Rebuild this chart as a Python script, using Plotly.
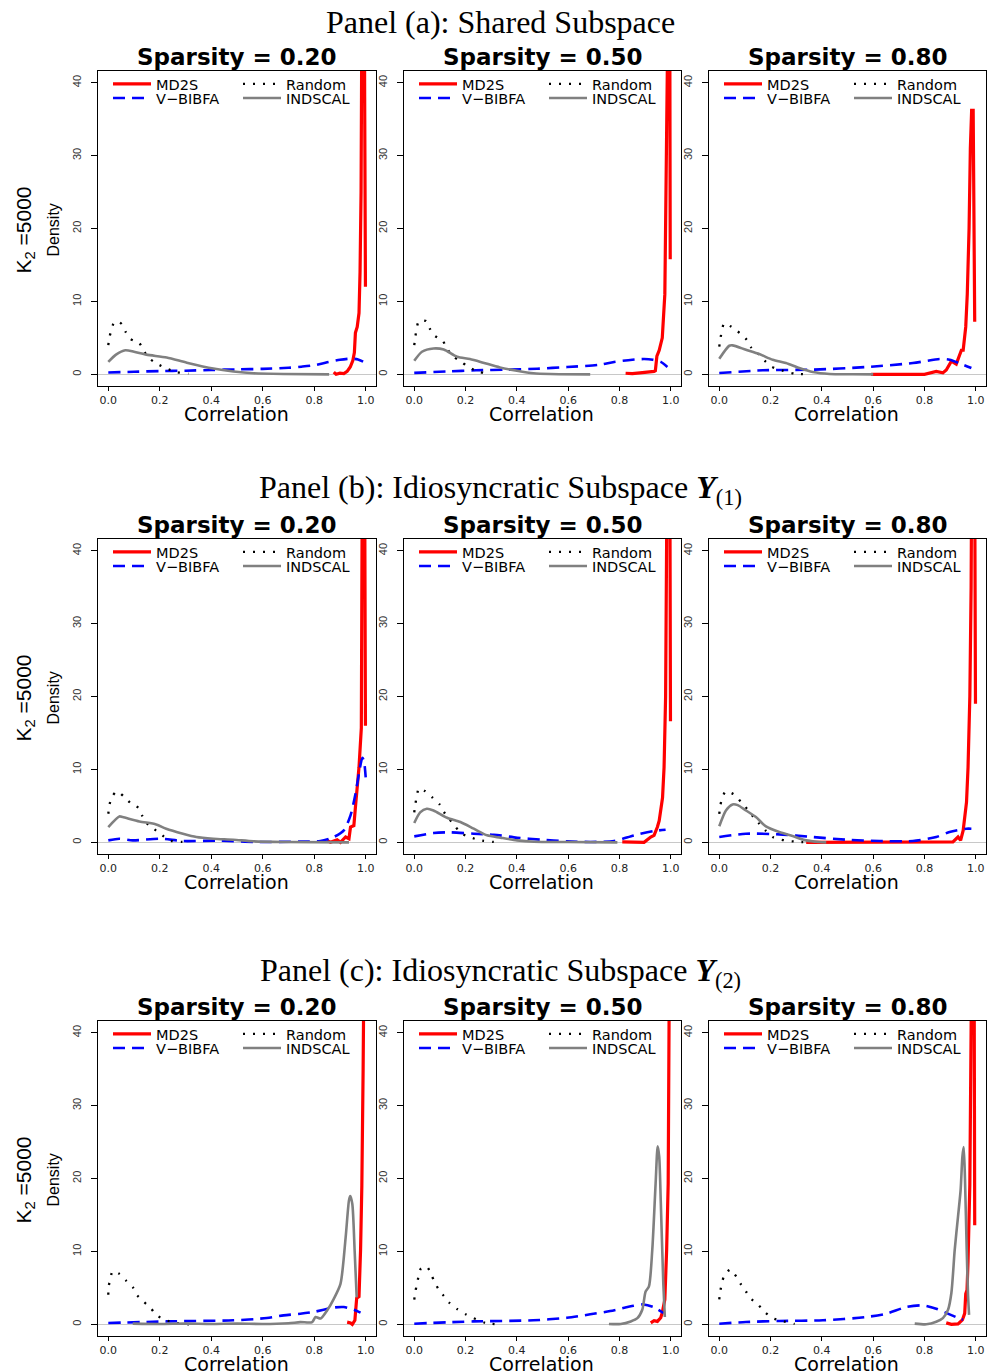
import plotly.graph_objects as go

# ---------------- text / categories ----------------
PANEL_TITLES = [
    "Panel (a): Shared Subspace",
    "Panel (b): Idiosyncratic Subspace <b><i>Y</i></b><sub>(1)</sub>",
    "Panel (c): Idiosyncratic Subspace <b><i>Y</i></b><sub>(2)</sub>",
]
SPARSITY = ["0.20", "0.50", "0.80"]
METHODS = ["MD2S", "V\u2212BIBFA", "Random", "INDSCAL"]
X_TICKS = [0.0, 0.2, 0.4, 0.6, 0.8, 1.0]
X_TICK_TEXT = ["0.0", "0.2", "0.4", "0.6", "0.8", "1.0"]
Y_TICKS = [0, 10, 20, 30, 40]
Y_LABEL_MAIN = "K<sub>2</sub> =5000"
Y_LABEL_SUB = "Density"
X_LABEL = "Correlation"

# ---------------- Panel (a) Sparsity 0.20 ----------------
A1_MD2S_X = [0.876, 0.885, 0.9, 0.915, 0.928, 0.94, 0.95, 0.956, 0.96, 0.967, 0.974, 0.978, 0.982, 0.985, 0.989, 0.993, 0.996, 0.999]
A1_MD2S_Y = [0.3, 0.0, 0.15, 0.1, 0.4, 1.0, 1.9, 3.0, 5.7, 6.5, 8.4, 14.0, 25.0, 45.0, 80.0, 70.0, 38.0, 12.0]
A1_BIBFA_X = [0.0, 0.1, 0.2, 0.3, 0.4, 0.5, 0.6, 0.7, 0.75, 0.8, 0.85, 0.9, 0.94, 0.97, 0.99]
A1_BIBFA_Y = [0.25, 0.35, 0.45, 0.5, 0.6, 0.68, 0.75, 0.9, 1.05, 1.25, 1.65, 2.0, 2.15, 2.05, 1.75]
A1_RANDOM_X = [0.0, 0.004, 0.012, 0.023, 0.04, 0.052, 0.066, 0.084, 0.1, 0.12, 0.137, 0.155, 0.187, 0.226, 0.266, 0.311]
A1_RANDOM_Y = [4.0, 5.05, 6.05, 7.15, 7.2, 6.9, 5.9, 4.9, 4.6, 4.3, 3.3, 2.3, 1.5, 0.8, 0.3, 0.1]
A1_INDSCAL_X = [0.0, 0.03, 0.066, 0.1, 0.148, 0.227, 0.305, 0.408, 0.486, 0.564, 0.68, 0.858]
A1_INDSCAL_Y = [1.7, 2.7, 3.3, 3.1, 2.7, 2.3, 1.6, 0.8, 0.4, 0.15, 0.05, 0.0]

# ---------------- Panel (a) Sparsity 0.50 ----------------
A2_MD2S_X = [0.824, 0.85, 0.88, 0.9, 0.92, 0.935, 0.94, 0.946, 0.955, 0.962, 0.967, 0.977, 0.984, 0.988, 0.992, 0.996, 0.998]
A2_MD2S_Y = [0.15, 0.1, 0.2, 0.25, 0.3, 0.4, 0.5, 2.5, 3.3, 4.5, 5.0, 11.0, 29.0, 46.0, 80.0, 55.0, 15.8]
A2_BIBFA_X = [0.0, 0.128, 0.241, 0.362, 0.479, 0.596, 0.72, 0.779, 0.85, 0.896, 0.93, 0.961, 0.987]
A2_BIBFA_Y = [0.2, 0.4, 0.55, 0.64, 0.77, 1.0, 1.3, 1.7, 2.0, 2.1, 2.0, 1.7, 1.0]
A2_RANDOM_X = [0.0, 0.004, 0.009, 0.018, 0.046, 0.06, 0.079, 0.111, 0.126, 0.15, 0.18, 0.212, 0.251, 0.296]
A2_RANDOM_Y = [4.0, 5.1, 6.2, 7.3, 7.3, 6.3, 5.3, 4.6, 3.6, 2.5, 1.8, 1.0, 0.35, 0.1]
A2_INDSCAL_X = [0.0, 0.03, 0.075, 0.115, 0.167, 0.217, 0.269, 0.334, 0.4, 0.465, 0.53, 0.686]
A2_INDSCAL_Y = [1.85, 3.1, 3.55, 3.4, 2.4, 2.1, 1.6, 0.95, 0.5, 0.15, 0.05, 0.0]

# ---------------- Panel (a) Sparsity 0.80 ----------------
A3_MD2S_X = [0.592, 0.7, 0.8, 0.846, 0.872, 0.885, 0.905, 0.924, 0.944, 0.951, 0.961, 0.967, 0.974, 0.979, 0.984, 0.99, 0.995, 0.996]
A3_MD2S_Y = [0.0, 0.0, 0.0, 0.4, 0.2, 0.6, 1.8, 1.4, 3.3, 3.3, 6.5, 11.0, 20.0, 31.0, 36.2, 36.2, 20.0, 7.2]
A3_BIBFA_X = [0.0, 0.17, 0.365, 0.573, 0.755, 0.859, 0.898, 0.951, 0.983]
A3_BIBFA_Y = [0.18, 0.55, 0.64, 1.0, 1.55, 2.1, 2.0, 1.32, 0.87]
A3_RANDOM_X = [0.0, 0.005, 0.0104, 0.0195, 0.048, 0.082, 0.108, 0.124, 0.152, 0.176, 0.204, 0.247, 0.292, 0.34]
A3_RANDOM_Y = [3.8, 5.0, 6.0, 7.0, 6.5, 5.6, 4.7, 3.7, 2.8, 1.9, 1.05, 0.5, 0.1, 0.0]
A3_INDSCAL_X = [0.0, 0.039, 0.052, 0.104, 0.156, 0.208, 0.26, 0.312, 0.365, 0.43, 0.52, 0.6]
A3_INDSCAL_Y = [2.14, 3.92, 3.97, 3.37, 2.78, 2.0, 1.55, 0.87, 0.32, 0.05, 0.02, 0.0]

# ---------------- Panel (b) Sparsity 0.20 ----------------
B1_MD2S_X = [0.85, 0.863, 0.889, 0.902, 0.922, 0.935, 0.941, 0.954, 0.96, 0.974, 0.983, 0.986, 0.99, 0.995, 0.999]
B1_MD2S_Y = [0.27, 0.0, 0.36, 0.0, 0.73, 0.5, 2.1, 2.3, 4.8, 10.3, 15.7, 45.0, 80.0, 60.0, 16.0]
B1_BIBFA_X = [0.0, 0.043, 0.095, 0.2, 0.29, 0.42, 0.564, 0.746, 0.824, 0.876, 0.915, 0.941, 0.96, 0.978, 0.987, 0.993, 1.0]
B1_BIBFA_Y = [0.27, 0.5, 0.27, 0.5, 0.18, 0.23, 0.05, 0.1, 0.18, 0.73, 1.64, 3.7, 6.6, 10.3, 11.6, 11.2, 8.9]
B1_RANDOM_X = [0.0, 0.004, 0.012, 0.034, 0.063, 0.086, 0.118, 0.131, 0.147, 0.177, 0.208, 0.242, 0.288]
B1_RANDOM_Y = [3.92, 5.0, 6.1, 7.0, 6.2, 5.4, 4.7, 3.7, 2.7, 1.86, 1.0, 0.23, 0.05]
B1_INDSCAL_X = [0.0, 0.043, 0.056, 0.121, 0.186, 0.225, 0.29, 0.342, 0.408, 0.486, 0.564, 0.68, 0.935]
B1_INDSCAL_Y = [2.1, 3.55, 3.46, 2.87, 2.46, 1.86, 1.18, 0.73, 0.5, 0.36, 0.14, 0.05, 0.0]

# ---------------- Panel (b) Sparsity 0.50 ----------------
B2_MD2S_X = [0.811, 0.86, 0.896, 0.922, 0.935, 0.948, 0.955, 0.968, 0.974, 0.98, 0.985, 0.988, 0.992, 0.996, 0.999]
B2_MD2S_Y = [0.05, 0.02, 0.0, 0.73, 0.96, 2.1, 2.96, 6.1, 10.3, 20.0, 35.0, 50.0, 85.0, 60.0, 16.6]
B2_BIBFA_X = [0.0, 0.075, 0.141, 0.232, 0.31, 0.401, 0.492, 0.596, 0.688, 0.779, 0.857, 0.935, 0.98]
B2_BIBFA_Y = [0.82, 1.27, 1.37, 1.18, 1.05, 0.64, 0.36, 0.14, 0.05, 0.18, 0.96, 1.55, 1.73]
B2_RANDOM_X = [0.0, 0.004, 0.01, 0.018, 0.043, 0.072, 0.099, 0.115, 0.134, 0.158, 0.18, 0.219, 0.264, 0.31]
B2_RANDOM_Y = [4.1, 5.2, 6.3, 7.4, 7.0, 6.1, 5.2, 4.2, 3.3, 2.3, 1.3, 0.68, 0.23, 0.05]
B2_INDSCAL_X = [0.0, 0.023, 0.049, 0.075, 0.128, 0.18, 0.232, 0.284, 0.336, 0.401, 0.466, 0.596, 0.792]
B2_INDSCAL_Y = [2.65, 4.1, 4.6, 4.37, 3.37, 2.78, 1.87, 0.96, 0.64, 0.27, 0.09, 0.05, 0.0]

# ---------------- Panel (b) Sparsity 0.80 ----------------
B3_MD2S_X = [0.339, 0.5, 0.755, 0.885, 0.911, 0.931, 0.941, 0.951, 0.957, 0.964, 0.97, 0.977, 0.982, 0.985, 0.99, 0.995, 0.999]
B3_MD2S_Y = [0.0, 0.0, 0.0, 0.05, 0.05, 0.73, 0.27, 1.64, 3.64, 5.5, 10.3, 20.0, 35.0, 50.0, 90.0, 60.0, 19.0]
B3_BIBFA_X = [0.0, 0.104, 0.234, 0.365, 0.495, 0.625, 0.755, 0.846, 0.898, 0.964, 0.983]
B3_BIBFA_Y = [0.73, 1.18, 1.09, 0.73, 0.36, 0.18, 0.18, 0.73, 1.41, 1.87, 1.87]
B3_RANDOM_X = [0.0, 0.004, 0.0104, 0.026, 0.065, 0.087, 0.111, 0.133, 0.156, 0.18, 0.208, 0.254, 0.3, 0.345]
B3_RANDOM_Y = [3.9, 4.96, 6.0, 7.0, 6.4, 5.4, 4.46, 3.46, 2.55, 1.64, 0.73, 0.27, 0.09, 0.0]
B3_INDSCAL_X = [0.0, 0.026, 0.052, 0.072, 0.104, 0.143, 0.182, 0.234, 0.286, 0.339, 0.39, 0.417]
B3_INDSCAL_Y = [2.2, 4.37, 5.2, 5.1, 4.37, 3.46, 2.18, 1.41, 0.86, 0.27, 0.05, 0.0]

# ---------------- Panel (c) Sparsity 0.20 ----------------
C1_MD2S_X = [0.928, 0.941, 0.948, 0.958, 0.965, 0.974, 0.98, 0.985, 0.99, 0.994, 0.999]
C1_MD2S_Y = [0.3, 0.2, 0.0, 0.55, 3.6, 3.8, 10.2, 19.0, 35.0, 55.0, 75.0]
C1_BIBFA_X = [0.0, 0.225, 0.486, 0.616, 0.681, 0.746, 0.798, 0.876, 0.915, 0.954, 0.98]
C1_BIBFA_Y = [0.18, 0.4, 0.55, 0.86, 1.23, 1.45, 1.7, 2.3, 2.37, 2.0, 1.6]
C1_RANDOM_X = [0.0, 0.001, 0.008, 0.017, 0.043, 0.069, 0.095, 0.111, 0.137, 0.164, 0.184, 0.223, 0.264, 0.314]
C1_RANDOM_Y = [4.05, 5.1, 6.24, 7.28, 6.92, 6.0, 5.1, 4.05, 3.1, 2.28, 1.32, 0.59, 0.18, 0.0]
C1_INDSCAL_X = [0.095, 0.2, 0.3, 0.4, 0.5, 0.6, 0.7, 0.746, 0.792, 0.805, 0.825, 0.85, 0.876, 0.902, 0.922, 0.935, 0.94, 0.948, 0.957, 0.965]
C1_INDSCAL_Y = [0.1, 0.05, 0.1, 0.05, 0.1, 0.05, 0.15, 0.3, 0.3, 1.0, 0.8, 1.9, 3.5, 5.55, 11.9, 17.0, 17.6, 16.5, 10.1, 3.7]

# ---------------- Panel (c) Sparsity 0.50 ----------------
C2_MD2S_X = [0.922, 0.935, 0.948, 0.961, 0.967, 0.977, 0.984, 0.99, 0.994, 0.999]
C2_MD2S_Y = [0.2, 0.5, 0.4, 0.9, 1.6, 3.4, 10.2, 19.3, 45.0, 70.0]
C2_BIBFA_X = [0.0, 0.23, 0.464, 0.595, 0.686, 0.764, 0.855, 0.894, 0.933, 0.972]
C2_BIBFA_Y = [0.09, 0.4, 0.55, 0.9, 1.37, 1.82, 2.55, 2.73, 2.37, 1.55]
C2_RANDOM_X = [0.0, 0.004, 0.0104, 0.017, 0.026, 0.049, 0.066, 0.079, 0.095, 0.115, 0.137, 0.167, 0.202, 0.277, 0.326]
C2_RANDOM_Y = [3.4, 4.4, 5.55, 6.6, 7.65, 7.9, 6.85, 5.8, 4.8, 3.9, 2.95, 2.1, 1.35, 0.2, 0.0]
C2_INDSCAL_X = [0.759, 0.805, 0.844, 0.87, 0.889, 0.902, 0.915, 0.928, 0.941, 0.949, 0.955, 0.961, 0.971, 0.977]
C2_INDSCAL_Y = [0.05, 0.05, 0.4, 0.85, 2.0, 4.5, 5.2, 10.2, 19.3, 24.4, 23.0, 17.0, 5.6, 1.0]

# ---------------- Panel (c) Sparsity 0.80 ----------------
C3_MD2S_X = [0.885, 0.905, 0.931, 0.948, 0.957, 0.961, 0.966, 0.97, 0.977, 0.983, 0.988, 0.993, 0.996]
C3_MD2S_Y = [0.2, 0.0, 0.05, 0.6, 1.5, 4.2, 4.7, 8.7, 19.2, 45.0, 80.0, 60.0, 13.6]
C3_BIBFA_X = [0.0, 0.104, 0.234, 0.404, 0.573, 0.651, 0.729, 0.794, 0.846, 0.898, 0.938, 0.95]
C3_BIBFA_Y = [0.09, 0.32, 0.46, 0.55, 1.0, 1.46, 2.37, 2.6, 2.14, 1.37, 0.77, 0.64]
C3_RANDOM_X = [0.0, 0.004, 0.0104, 0.0195, 0.043, 0.068, 0.085, 0.104, 0.124, 0.152, 0.178, 0.208, 0.25, 0.294]
C3_RANDOM_Y = [3.41, 4.55, 5.64, 6.69, 7.5, 6.46, 5.46, 4.5, 3.5, 2.68, 1.68, 0.86, 0.41, 0.05]
C3_INDSCAL_X = [0.762, 0.807, 0.846, 0.872, 0.892, 0.905, 0.918, 0.931, 0.941, 0.948, 0.953, 0.958, 0.965, 0.97, 0.974]
C3_INDSCAL_Y = [0.1, 0.0, 0.35, 0.85, 2.0, 4.3, 10.2, 14.8, 18.4, 23.0, 24.3, 20.0, 10.0, 4.0, 1.3]

# ---------------- assemble table from the arrays ----------------
PANELS = [
    {"MD2S": (A1_MD2S_X, A1_MD2S_Y), "V\u2212BIBFA": (A1_BIBFA_X, A1_BIBFA_Y), "Random": (A1_RANDOM_X, A1_RANDOM_Y), "INDSCAL": (A1_INDSCAL_X, A1_INDSCAL_Y)},
    {"MD2S": (A2_MD2S_X, A2_MD2S_Y), "V\u2212BIBFA": (A2_BIBFA_X, A2_BIBFA_Y), "Random": (A2_RANDOM_X, A2_RANDOM_Y), "INDSCAL": (A2_INDSCAL_X, A2_INDSCAL_Y)},
    {"MD2S": (A3_MD2S_X, A3_MD2S_Y), "V\u2212BIBFA": (A3_BIBFA_X, A3_BIBFA_Y), "Random": (A3_RANDOM_X, A3_RANDOM_Y), "INDSCAL": (A3_INDSCAL_X, A3_INDSCAL_Y)},
    {"MD2S": (B1_MD2S_X, B1_MD2S_Y), "V\u2212BIBFA": (B1_BIBFA_X, B1_BIBFA_Y), "Random": (B1_RANDOM_X, B1_RANDOM_Y), "INDSCAL": (B1_INDSCAL_X, B1_INDSCAL_Y)},
    {"MD2S": (B2_MD2S_X, B2_MD2S_Y), "V\u2212BIBFA": (B2_BIBFA_X, B2_BIBFA_Y), "Random": (B2_RANDOM_X, B2_RANDOM_Y), "INDSCAL": (B2_INDSCAL_X, B2_INDSCAL_Y)},
    {"MD2S": (B3_MD2S_X, B3_MD2S_Y), "V\u2212BIBFA": (B3_BIBFA_X, B3_BIBFA_Y), "Random": (B3_RANDOM_X, B3_RANDOM_Y), "INDSCAL": (B3_INDSCAL_X, B3_INDSCAL_Y)},
    {"MD2S": (C1_MD2S_X, C1_MD2S_Y), "V\u2212BIBFA": (C1_BIBFA_X, C1_BIBFA_Y), "Random": (C1_RANDOM_X, C1_RANDOM_Y), "INDSCAL": (C1_INDSCAL_X, C1_INDSCAL_Y)},
    {"MD2S": (C2_MD2S_X, C2_MD2S_Y), "V\u2212BIBFA": (C2_BIBFA_X, C2_BIBFA_Y), "Random": (C2_RANDOM_X, C2_RANDOM_Y), "INDSCAL": (C2_INDSCAL_X, C2_INDSCAL_Y)},
    {"MD2S": (C3_MD2S_X, C3_MD2S_Y), "V\u2212BIBFA": (C3_BIBFA_X, C3_BIBFA_Y), "Random": (C3_RANDOM_X, C3_RANDOM_Y), "INDSCAL": (C3_INDSCAL_X, C3_INDSCAL_Y)},
]

STYLE = {
    "MD2S": dict(color="#FF0000", width=3.2, dash="solid", shape="linear"),
    "V\u2212BIBFA": dict(color="#0000FF", width=2.6, dash="12px,7px", shape="spline"),
    "Random": dict(color="#000000", width=2.3, dash="2px,8px", shape="spline"),
    "INDSCAL": dict(color="#808080", width=2.6, dash="solid", shape="spline"),
}
# legend grid slot (column, row) for each method
LEG_SLOT = {"MD2S": (0, 0), "V\u2212BIBFA": (0, 1), "Random": (1, 0), "INDSCAL": (1, 1)}

# ---------------- geometry (window pixels) ----------------
W, H = 989, 1372
ML, MR, MT, MB = 98, 3, 71, 36
PW = W - ML - MR
PH = H - MT - MB
COL_PX = [(98, 376), (404, 681), (709, 986)]
ROW_PX = [(71, 386), (539, 854), (1021, 1336)]

def fx(px):
    return (px - ML) / PW

def fy(py):
    return (H - MB - py) / PH

SANS = "DejaVu Sans"
fig = go.Figure()
layout = dict(
    width=W, height=H,
    margin=dict(l=ML, r=MR, t=MT, b=MB),
    paper_bgcolor="white", plot_bgcolor="white",
    font=dict(family=SANS, color="black"),
    showlegend=True,
)
annotations = []

for k, panel in enumerate(PANELS):
    r, c = divmod(k, 3)
    sfx = "" if k == 0 else str(k + 1)
    xl, xr = COL_PX[c]
    yt, yb = ROW_PX[r]
    layout["xaxis" + sfx] = dict(
        domain=[fx(xl), fx(xr)], anchor="y" + sfx,
        range=[-0.04, 1.04], tickvals=X_TICKS, ticktext=X_TICK_TEXT,
        ticks="outside", ticklen=4, tickcolor="black", tickwidth=1,
        showline=True, mirror=True, linecolor="black", linewidth=1,
        showgrid=False, zeroline=False,
        tickfont=dict(family=SANS, size=11, color="#222"),
    )
    layout["yaxis" + sfx] = dict(
        domain=[fy(yb), fy(yt)], anchor="x" + sfx,
        range=[-1.6, 41.6], tickvals=Y_TICKS,
        ticks="outside", ticklen=6, tickcolor="black", tickwidth=1, tickangle=-90,
        ticklabelstandoff=6,
        showline=True, mirror=True, linecolor="black", linewidth=1,
        showgrid=False, zeroline=True, zerolinecolor="#c8c8c8", zerolinewidth=1,
        tickfont=dict(family="Liberation Sans", size=11, color="#333"),
    )
    for j, m in enumerate(METHODS):
        xs, ys = panel[m]
        st = STYLE[m]
        lidx = 4 * k + j + 1
        lname = "legend" if lidx == 1 else "legend%d" % lidx
        fig.add_trace(go.Scatter(
            x=xs, y=ys, mode="lines", name=m,
            line=dict(color=st["color"], width=st["width"], dash=st["dash"],
                      shape=st["shape"], smoothing=0.7 if st["shape"] == "spline" else None),
            xaxis="x" + sfx, yaxis="y" + sfx, legend=lname, showlegend=True,
            hoverinfo="skip",
        ))
        cc, rr = LEG_SLOT[m]
        layout[lname] = dict(
            x=fx(xl + 10 + 130 * cc), y=fy(yt + 13 + 14 * rr),
            xanchor="left", yanchor="middle",
            bgcolor="rgba(0,0,0,0)", borderwidth=0,
            font=dict(family=SANS, size=14.5, color="black"),
            itemwidth=38, orientation="v",
        )
    # subplot title
    annotations.append(dict(
        text="<b>Sparsity = %s</b>" % SPARSITY[c], xref="paper", yref="paper",
        x=fx((xl + xr) / 2), y=fy(yt - 14), xanchor="center", yanchor="middle",
        showarrow=False, font=dict(family=SANS, size=23, color="black"),
    ))
    # x-axis label
    annotations.append(dict(
        text=X_LABEL, xref="paper", yref="paper",
        x=fx((xl + xr) / 2 - 1), y=fy(yb + 28), xanchor="center", yanchor="middle",
        showarrow=False, font=dict(family=SANS, size=19, color="black"),
    ))

for r in range(3):
    yt, yb = ROW_PX[r]
    annotations.append(dict(
        text=PANEL_TITLES[r], xref="paper", yref="paper",
        x=fx(500), y=fy(yt - 49), xanchor="center", yanchor="middle",
        showarrow=False, font=dict(family="Liberation Serif", size=32, color="black"),
    ))
    annotations.append(dict(
        text=Y_LABEL_MAIN, xref="paper", yref="paper",
        x=fx(24), y=fy((yt + yb) / 2 + 2), xanchor="center", yanchor="middle",
        textangle=-90, showarrow=False,
        font=dict(family="Liberation Sans", size=21, color="black"),
    ))
    annotations.append(dict(
        text=Y_LABEL_SUB, xref="paper", yref="paper",
        x=fx(53), y=fy((yt + yb) / 2 + 2), xanchor="center", yanchor="middle",
        textangle=-90, showarrow=False,
        font=dict(family="Liberation Sans", size=16, color="black"),
    ))

layout["annotations"] = annotations
fig.update_layout(**layout)
# remove the browser's default 8px page margin so the figure fills the window exactly
fig.write_html(
    "out.html",
    config={"displayModeBar": False},
    post_script="document.body.style.margin='0';document.body.style.overflow='hidden';",
)
